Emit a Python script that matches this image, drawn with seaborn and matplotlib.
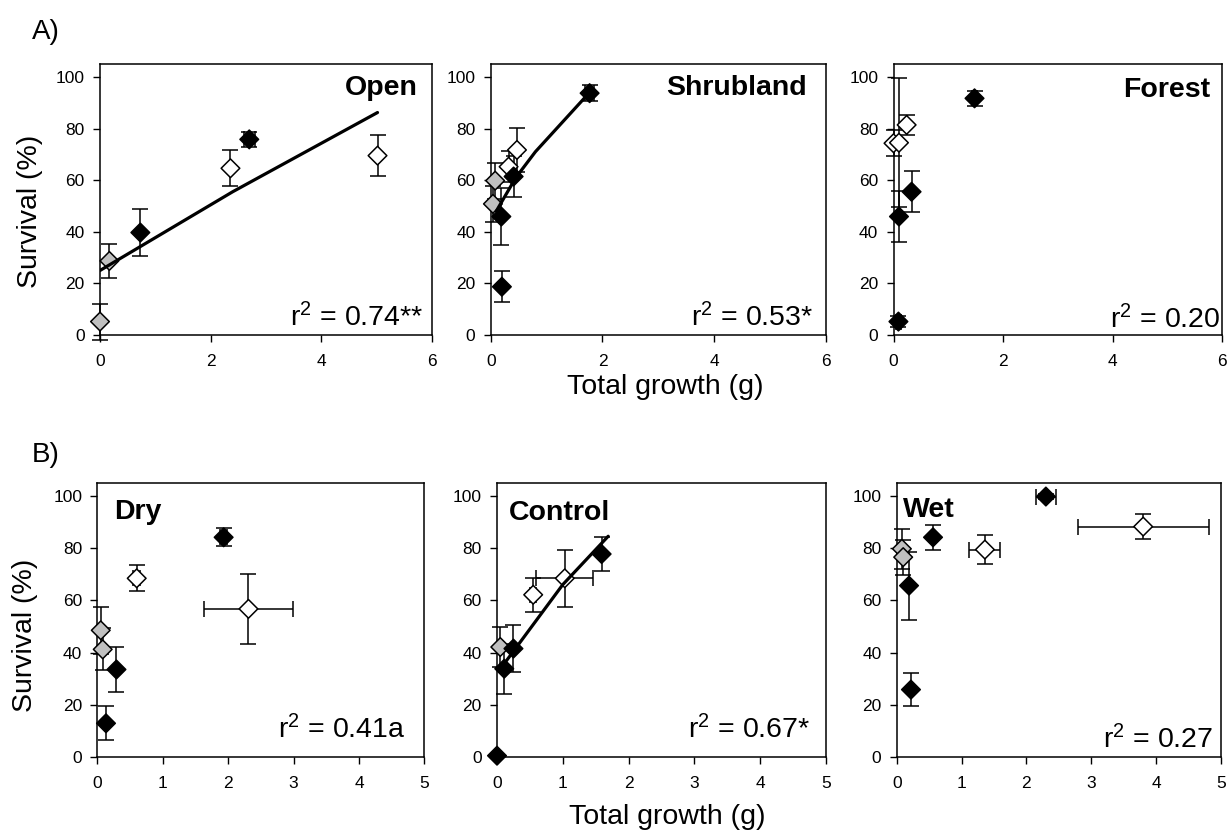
import numpy as np
import pandas as pd
import matplotlib
matplotlib.use('Agg')
import matplotlib.pyplot as plt
import seaborn as sns

# fill code: k = black, w = white, g = grey
open_x = [0.0, 0.17, 0.73, 2.36, 2.70, 5.02]
open_y = [5.2, 28.7, 39.7, 64.6, 75.8, 69.5]
open_yerr = [7.0, 6.5, 9.0, 7.0, 3.0, 8.0]
open_xerr = [0, 0, 0, 0, 0.1, 0]
open_fill = ['g', 'g', 'k', 'w', 'k', 'w']
open_fit_x = [0.0, 2.4, 5.02]
open_fit_y = [25.0, 55.5, 86.2]

shrub_x = [1.77, 0.47, 0.32, 0.41, 0.08, 0.04, 0.19, 0.20]
shrub_y = [93.7, 71.7, 65.2, 61.4, 59.8, 50.8, 45.9, 18.7]
shrub_yerr = [3.0, 8.5, 6.0, 8.0, 7.0, 7.0, 11.0, 6.0]
shrub_xerr = [0.08, 0, 0, 0, 0, 0, 0, 0]
shrub_fill = ['k', 'w', 'w', 'k', 'g', 'g', 'k', 'k']
shrub_fit_x = [0.1, 0.45, 0.8, 1.77]
shrub_fit_y = [48.0, 61.0, 71.0, 94.0]

forest_x = [0.0, 0.10, 0.24, 0.10, 0.33, 0.09, 1.48]
forest_y = [74.3, 74.5, 81.4, 45.9, 55.5, 5.2, 91.7]
forest_yerr = [5.0, 25.0, 4.0, 10.0, 8.0, 2.0, 3.0]
forest_xerr = [0, 0, 0, 0, 0, 0.05, 0.05]
forest_fill = ['w', 'w', 'w', 'k', 'k', 'k', 'k']

dry_x = [1.93, 0.60, 2.31, 0.05, 0.08, 0.29, 0.13]
dry_y = [84.1, 68.4, 56.7, 48.5, 41.2, 33.5, 12.9]
dry_yerr = [3.5, 5.0, 13.3, 9.0, 8.0, 8.5, 6.5]
dry_xerr = [0.05, 0.05, 0.68, 0, 0, 0, 0]
dry_fill = ['k', 'w', 'w', 'g', 'g', 'k', 'k']

ctrl_x = [1.59, 1.03, 0.55, 0.05, 0.25, 0.11, 0.0]
ctrl_y = [77.7, 68.4, 62.1, 42.1, 41.5, 33.8, 0.5]
ctrl_yerr = [6.5, 11.0, 6.5, 7.5, 9.0, 9.5, 0]
ctrl_xerr = [0, 0.43, 0.05, 0, 0, 0, 0]
ctrl_fill = ['k', 'w', 'w', 'g', 'k', 'k', 'k']
ctrl_fit_x = [0.03, 1.0, 1.69]
ctrl_fit_y = [33.0, 66.0, 84.5]

wet_x = [2.30, 3.80, 0.56, 1.36, 0.08, 0.10, 0.19, 0.22]
wet_y = [99.7, 88.2, 84.1, 79.4, 79.7, 76.5, 65.6, 25.8]
wet_yerr = [1.0, 4.8, 4.7, 5.4, 7.6, 6.7, 13.0, 6.2]
wet_xerr = [0.15, 1.01, 0, 0.24, 0, 0, 0, 0]
wet_fill = ['k', 'w', 'k', 'w', 'g', 'g', 'k', 'k']

titles = ['Open', 'Shrubland', 'Forest', 'Dry', 'Control', 'Wet']
r2_labels = ['r$^2$ = 0.74**', 'r$^2$ = 0.53*', 'r$^2$ = 0.20',
             'r$^2$ = 0.41a', 'r$^2$ = 0.67*', 'r$^2$ = 0.27']

fill_colors = {'k': 'black', 'w': 'white', 'g': '#c0c0c0'}

sns.set_style('ticks')
plt.rcParams['font.family'] = ['Liberation Sans', 'DejaVu Sans']
plt.rcParams['mathtext.fontset'] = 'custom'
plt.rcParams['mathtext.rm'] = 'Liberation Sans'
plt.rcParams['mathtext.it'] = 'Liberation Sans'
plt.rcParams['mathtext.default'] = 'regular'
for key in ['text.color', 'axes.labelcolor', 'xtick.color', 'ytick.color', 'axes.edgecolor']:
    plt.rcParams[key] = 'black'

W, H = 1228, 835
fig = plt.figure(figsize=(W / 100, H / 100), dpi=100)


def add_axes_px(left, top, right, bottom):
    return fig.add_axes([left / W, 1 - bottom / H, (right - left) / W, (bottom - top) / H])


def draw_panel(ax, x, y, yerr, xerr, fill, fit, xmax, title, title_pos, r2, r2_pos):
    df = pd.DataFrame({'x': x, 'y': y, 'yerr': yerr, 'xerr': xerr, 'fill': fill})
    for _, row in df.iterrows():
        eb = ax.errorbar(row.x, row.y, yerr=row.yerr if row.yerr > 0 else None,
                         xerr=row.xerr if row.xerr > 0 else None,
                         fmt='none', ecolor='black', elinewidth=1.1,
                         capsize=5.5, capthick=1.1, zorder=2)
        for art in list(eb.lines[1]) + list(eb.lines[2]):
            art.set_clip_on(False)
    sns.scatterplot(data=df, x='x', y='y', hue='fill', palette=fill_colors,
                    marker='D', s=90, edgecolor='black', linewidth=1.1,
                    legend=False, ax=ax, zorder=3, clip_on=False)
    if fit is not None:
        sns.lineplot(x=fit[0], y=fit[1], color='black', lw=2.3, sort=False,
                     estimator=None, ax=ax, zorder=4)

    ax.set_xlim(0, xmax)
    ax.set_ylim(0, 105)
    ax.set_xticks(np.arange(0, xmax + 1, 2 if xmax == 6 else 1))
    ax.set_yticks([0, 20, 40, 60, 80, 100])
    ax.set_xlabel('')
    ax.set_ylabel('')
    ax.tick_params(axis='both', labelsize=12.5, length=5, width=1, color='black')
    ax.tick_params(axis='x', pad=9)
    ax.tick_params(axis='y', pad=6)
    for sp in ax.spines.values():
        sp.set_visible(True)
        sp.set_color('black')
        sp.set_linewidth(1.1)

    anchor, dx, dy = title_pos
    ax.annotate(title, xy=(anchor, 1), xytext=(dx, dy), xycoords='axes fraction',
                textcoords='offset pixels', ha='left' if anchor == 0 else 'right',
                va='baseline', fontsize=20.5, fontweight='bold')
    ax.annotate(r2, xy=(1, 0), xytext=r2_pos, xycoords='axes fraction',
                textcoords='offset pixels', ha='right', va='baseline', fontsize=20.5)


ax_open = add_axes_px(100, 64, 431.7, 335)
ax_shrub = add_axes_px(490.7, 64, 826, 335)
ax_forest = add_axes_px(893.5, 64, 1222, 335)
ax_dry = add_axes_px(97.5, 482.7, 424.3, 757)
ax_ctrl = add_axes_px(497, 482.7, 826, 757)
ax_wet = add_axes_px(896.7, 482.7, 1221, 757)

draw_panel(ax_open, open_x, open_y, open_yerr, open_xerr, open_fill,
           (open_fit_x, open_fit_y), 6, titles[0], (1, -13.7, -31), r2_labels[0], (-8.7, 8.3))
draw_panel(ax_shrub, shrub_x, shrub_y, shrub_yerr, shrub_xerr, shrub_fill,
           (shrub_fit_x, shrub_fit_y), 6, titles[1], (1, -19, -31.5), r2_labels[1], (-12.7, 8.3))
draw_panel(ax_forest, forest_x, forest_y, forest_yerr, forest_xerr, forest_fill,
           None, 6, titles[2], (1, -12, -33), r2_labels[2], (-2, 7))
draw_panel(ax_dry, dry_x, dry_y, dry_yerr, dry_xerr, dry_fill,
           None, 5, titles[3], (0, 16.5, -36.5), r2_labels[3], (-19, 18.7))
draw_panel(ax_ctrl, ctrl_x, ctrl_y, ctrl_yerr, ctrl_xerr, ctrl_fill,
           (ctrl_fit_x, ctrl_fit_y), 5, titles[4], (0, 12.3, -37.5), r2_labels[4], (-16, 18.4))
draw_panel(ax_wet, wet_x, wet_y, wet_yerr, wet_xerr, wet_fill,
           None, 5, titles[5], (0, 6.6, -34.6), r2_labels[5], (-7.4, 8.5))

# figure level labels
fig.text(32 / W, 1 - 32 / H, 'A)', ha='left', va='center', fontsize=20)
fig.text(32 / W, 1 - 455 / H, 'B)', ha='left', va='center', fontsize=20)
fig.text(30 / W, 1 - 211 / H, 'Survival (%)', rotation=90, ha='center', va='center', fontsize=20.5)
fig.text(25 / W, 1 - 635 / H, 'Survival (%)', rotation=90, ha='center', va='center', fontsize=20.5)
fig.text(665 / W, 1 - 387 / H, 'Total growth (g)', ha='center', va='center', fontsize=20.5)
fig.text(667 / W, 1 - 817 / H, 'Total growth (g)', ha='center', va='center', fontsize=20.5)

fig.savefig('out.png', dpi=100)
